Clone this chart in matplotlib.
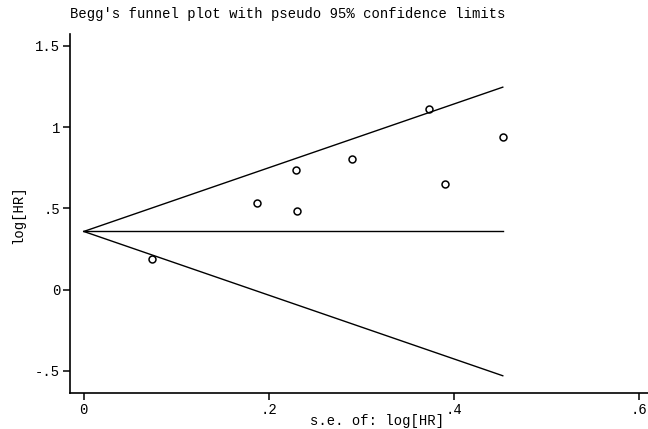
import matplotlib
matplotlib.use("Agg")
import matplotlib.pyplot as plt
import numpy as np

# study standard errors and log hazard ratios
se_log_hr = [0.0735, 0.187, 0.229, 0.231, 0.290, 0.373, 0.391, 0.453]
log_hr = [0.191, 0.531, 0.735, 0.481, 0.802, 1.111, 0.648, 0.938]
pooled = 0.358

x_ticks = [0, 0.2, 0.4, 0.6]
x_tick_labels = ["0", ".2", ".4", ".6"]
y_ticks = [-0.5, 0, 0.5, 1, 1.5]
y_tick_labels = ["-.5", "0", ".5", "1", "1.5"]

plt.rcParams['font.family'] = ['Liberation Mono', 'DejaVu Sans Mono']

fig = plt.figure(figsize=(6.48, 4.29), dpi=100)
ax = fig.add_axes([70 / 648, 1 - 393 / 429, 578 / 648, 359 / 429])

# pseudo 95% limits from 0 to the largest s.e.
se_line = np.array([0, max(se_log_hr)])
ax.plot(se_line, pooled + 1.96 * se_line, color='black', lw=1.0)
ax.plot(se_line, pooled - 1.96 * se_line, color='black', lw=1.0)
ax.plot(se_line, [pooled, pooled], color='black', lw=1.0)

ax.plot(se_log_hr, log_hr, linestyle='none', marker='o', markersize=5,
        markerfacecolor='none', markeredgecolor='black', markeredgewidth=1.1)

ax.set_xlim(-0.0149, 0.610)
ax.set_ylim(-0.636, 1.573)
ax.set_xticks(x_ticks)
ax.set_xticklabels(x_tick_labels)
ax.set_yticks(y_ticks)
ax.set_yticklabels(y_tick_labels)

for side in ['top', 'right']:
    ax.spines[side].set_visible(False)
for side in ['left', 'bottom']:
    ax.spines[side].set_linewidth(1.2)

ax.tick_params(direction='out', length=5, width=1.1, labelsize=10, pad=2)

fig.text(70 / 648, 1 - 14 / 429, "Begg's funnel plot with pseudo 95% confidence limits",
         fontsize=10, ha='left', va='center')
fig.text(377 / 648, 1 - 421 / 429, "s.e. of: log[HR]", fontsize=10,
         ha='center', va='center')
fig.text(18 / 648, 1 - 215 / 429, "log[HR]", fontsize=10, rotation=90,
         ha='center', va='center')

fig.savefig("out.png", dpi=100, facecolor='white')
